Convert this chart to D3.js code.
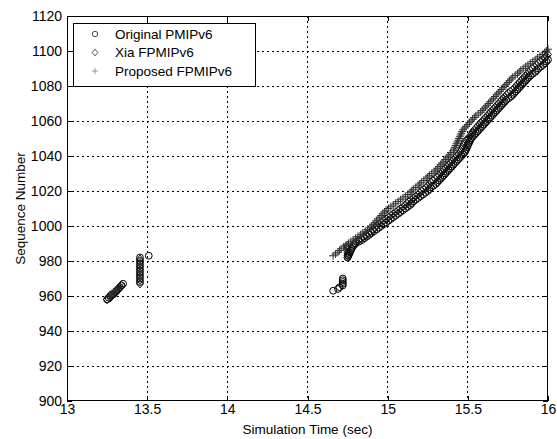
<!DOCTYPE html>
<html><head><meta charset="utf-8">
<script src="https://cdn.jsdelivr.net/npm/d3@7"></script>
<style>body{margin:0;background:#fff}</style>
</head><body>
<svg id="c" width="557" height="439"></svg>
<script>
// ---- data ----
const seriesNames = ["Original PMIPv6", "Xia FPMIPv6", "Proposed FPMIPv6"];
const xTicks = [13, 13.5, 14, 14.5, 15, 15.5, 16];
const yTicks = [900, 920, 940, 960, 980, 1000, 1020, 1040, 1060, 1080, 1100, 1120];

// Original PMIPv6 (circles): [time, seq]
const originalPts = [
 [13.25,958],[13.26,959],[13.27,960],[13.28,961],[13.29,961],[13.30,962],[13.31,963],[13.32,964],[13.33,965],[13.34,966],[13.35,967],
 [13.455,968],[13.455,970],[13.455,972],[13.455,974],[13.455,976],[13.455,978],[13.455,980],[13.455,982],[13.51,983],
 [14.66,963],[14.69,964],[14.70,965],[14.72,966],[14.72,967],[14.72,968],[14.72,969],[14.72,970],
 [14.75,982],[14.755,983],[14.76,984],[14.765,985],[14.77,986],[14.775,987],[14.78,988],[14.79,989],[14.80,990],[14.82,991],
 [14.84,992],[14.855,993],[14.87,994],[14.885,995],[14.90,996],[14.915,997],[14.93,998],[14.945,999],[14.96,1000],[14.975,1001],
 [14.99,1002],[15.005,1003],[15.02,1004],[15.035,1005],[15.05,1006],[15.065,1007],[15.08,1008],[15.095,1009],[15.11,1010],[15.125,1011],
 [15.14,1012],[15.15,1013],[15.16,1014],[15.175,1015],[15.19,1016],[15.205,1017],[15.22,1018],[15.235,1019],[15.25,1020],[15.26,1021],
 [15.27,1022],[15.285,1023],[15.30,1024],[15.31,1025],[15.32,1026],[15.33,1027],[15.34,1028],[15.35,1029],[15.36,1030],[15.37,1031],
 [15.38,1032],[15.39,1033],[15.40,1034],[15.41,1035],[15.42,1036],[15.43,1037],[15.44,1038],[15.45,1039],[15.46,1040],[15.47,1041],
 [15.48,1042],[15.485,1043],[15.49,1044],[15.495,1045],[15.50,1046],[15.505,1047],[15.51,1048],[15.515,1049],[15.52,1050],[15.53,1051],
 [15.54,1052],[15.55,1053],[15.56,1054],[15.57,1055],[15.58,1056],[15.59,1057],[15.60,1058],[15.61,1059],[15.62,1060],[15.63,1061],
 [15.64,1062],[15.65,1063],[15.66,1064],[15.67,1065],[15.68,1066],[15.69,1067],[15.70,1068],[15.71,1069],[15.72,1070],[15.73,1071],
 [15.74,1072],[15.755,1073],[15.77,1074],[15.78,1075],[15.79,1076],[15.80,1077],[15.81,1078],[15.82,1079],[15.83,1080],[15.84,1081],
 [15.85,1082],[15.86,1083],[15.87,1084],[15.88,1085],[15.89,1086],[15.905,1087],[15.92,1088],[15.93,1089],[15.94,1090],[15.955,1091],
 [15.97,1092],[15.98,1093],[15.99,1094],[16.00,1095]
];
// Xia FPMIPv6 (diamonds)
const xiaPts = [
 [13.25,958],[13.27,959],[13.28,960],[13.29,961],[13.30,962],[13.31,963],[13.32,964],[13.33,965],[13.34,966],
 [13.455,967],[13.455,969],[13.455,971],[13.455,973],[13.455,975],[13.455,977],[13.455,979],[13.455,981],
 [14.75,982],[14.75,983],[14.75,984],[14.75,985],[14.75,986],[14.75,987],[14.75,988],[14.75,989],
 [14.79,990],[14.805,991],[14.82,992],[14.835,993],[14.85,994],[14.865,995],[14.88,996],[14.895,997],[14.91,998],[14.92,999],
 [14.93,1000],[14.945,1001],[14.96,1002],[14.975,1003],[14.99,1004],[15.005,1005],[15.02,1006],[15.035,1007],[15.05,1008],[15.065,1009],
 [15.08,1010],[15.095,1011],[15.11,1012],[15.12,1013],[15.13,1014],[15.145,1015],[15.16,1016],[15.175,1017],[15.19,1018],[15.20,1019],
 [15.21,1020],[15.225,1021],[15.24,1022],[15.25,1023],[15.26,1024],[15.27,1025],[15.28,1026],[15.295,1027],[15.31,1028],[15.32,1029],
 [15.33,1030],[15.34,1031],[15.35,1032],[15.36,1033],[15.37,1034],[15.38,1035],[15.39,1036],[15.40,1037],[15.41,1038],[15.42,1039],
 [15.43,1040],[15.44,1041],[15.45,1042],[15.455,1043],[15.46,1044],[15.465,1045],[15.47,1046],[15.475,1047],[15.48,1048],[15.49,1049],
 [15.50,1050],[15.51,1051],[15.52,1052],[15.525,1053],[15.53,1054],[15.54,1055],[15.55,1056],[15.56,1057],[15.57,1058],[15.58,1059],
 [15.59,1060],[15.60,1061],[15.61,1062],[15.62,1063],[15.63,1064],[15.64,1065],[15.65,1066],[15.66,1067],[15.67,1068],[15.68,1069],
 [15.69,1070],[15.70,1071],[15.71,1072],[15.72,1073],[15.73,1074],[15.74,1075],[15.75,1076],[15.765,1077],[15.78,1078],[15.79,1079],
 [15.80,1080],[15.81,1081],[15.82,1082],[15.83,1083],[15.84,1084],[15.85,1085],[15.86,1086],[15.87,1087],[15.88,1088],[15.89,1089],
 [15.90,1090],[15.915,1091],[15.93,1092],[15.94,1093],[15.95,1094],[15.965,1095],[15.98,1096],[15.99,1097],[16.00,1098]
];
// Proposed FPMIPv6 (plus)
const proposedPts = [
 [13.27,960],[13.28,961],[13.29,962],[13.30,963],[13.31,964],
 [13.455,970],[13.455,974],[13.455,978],
 [14.66,983],[14.675,984],[14.69,985],[14.70,986],[14.71,987],[14.725,988],[14.74,989],[14.755,990],[14.77,991],[14.785,992],
 [14.80,993],[14.815,994],[14.83,995],[14.845,996],[14.86,997],[14.875,998],[14.89,999],[14.90,1000],[14.91,1001],[14.92,1002],
 [14.93,1003],[14.94,1004],[14.95,1005],[14.96,1006],[14.97,1007],[14.98,1008],[14.99,1009],[15.005,1010],[15.02,1011],[15.035,1012],
 [15.05,1013],[15.065,1014],[15.08,1015],[15.095,1016],[15.11,1017],[15.125,1018],[15.14,1019],[15.15,1020],[15.16,1021],[15.175,1022],
 [15.19,1023],[15.20,1024],[15.21,1025],[15.225,1026],[15.24,1027],[15.25,1028],[15.26,1029],[15.275,1030],[15.29,1031],[15.30,1032],
 [15.31,1033],[15.32,1034],[15.33,1035],[15.34,1036],[15.35,1037],[15.36,1038],[15.37,1039],[15.38,1040],[15.39,1041],[15.395,1042],
 [15.41,1043],[15.415,1044],[15.42,1045],[15.425,1046],[15.43,1047],[15.435,1048],[15.44,1049],[15.445,1050],[15.45,1051],[15.455,1052],
 [15.46,1053],[15.465,1054],[15.47,1055],[15.48,1056],[15.49,1057],[15.50,1058],[15.51,1059],[15.52,1060],[15.53,1061],[15.54,1062],
 [15.55,1063],[15.565,1064],[15.58,1065],[15.59,1066],[15.60,1067],[15.61,1068],[15.62,1069],[15.63,1070],[15.64,1071],[15.65,1072],
 [15.66,1073],[15.67,1074],[15.68,1075],[15.69,1076],[15.70,1077],[15.71,1078],[15.72,1079],[15.73,1080],[15.74,1081],[15.75,1082],
 [15.76,1083],[15.77,1084],[15.78,1085],[15.795,1086],[15.81,1087],[15.82,1088],[15.83,1089],[15.845,1090],[15.86,1091],[15.875,1092],
 [15.89,1093],[15.905,1094],[15.92,1095],[15.935,1096],[15.95,1097],[15.965,1098],[15.98,1099],[15.99,1100],[16.00,1101]
];

// ---- layout ----
const svg = d3.select("#c");
const L = 67, R = 548, T = 16, B = 401;
const x = d3.scaleLinear().domain([13, 16]).range([L, R]);
const y = d3.scaleLinear().domain([900, 1120]).range([B, T]);
const font = "'Liberation Sans', Arial, Helvetica, sans-serif";
const fs = "13.5px";

svg.append("rect").attr("x", L).attr("y", T).attr("width", R - L).attr("height", B - T).attr("fill", "#fff");

// grid
const g = svg.append("g");
g.selectAll(".gx").data(xTicks.slice(1, -1)).enter().append("line")
  .attr("x1", d => x(d)).attr("x2", d => x(d)).attr("y1", T).attr("y2", B)
  .attr("stroke", "#000").attr("stroke-width", 1).attr("stroke-dasharray", "2,3").attr("shape-rendering", "crispEdges");
g.selectAll(".gy").data(yTicks.slice(1, -1)).enter().append("line")
  .attr("y1", d => y(d)).attr("y2", d => y(d)).attr("x1", L).attr("x2", R)
  .attr("stroke", "#000").attr("stroke-width", 1).attr("stroke-dasharray", "2,3").attr("shape-rendering", "crispEdges");

// axes
const ax = d3.axisBottom(x).tickValues(xTicks).tickSize(-5).tickPadding(3).tickFormat(d3.format("~g"));
const ay = d3.axisLeft(y).tickValues(yTicks).tickSize(-5).tickPadding(5).tickFormat(d3.format("d"));
const gx = svg.append("g").attr("transform", `translate(0,${B})`).call(ax);
const gy = svg.append("g").attr("transform", `translate(${L},0)`).call(ay);
const gxt = svg.append("g").attr("transform", `translate(0,${T})`).call(d3.axisTop(x).tickValues(xTicks).tickSize(-5).tickFormat(""));
const gyr = svg.append("g").attr("transform", `translate(${R},0)`).call(d3.axisRight(y).tickValues(yTicks).tickSize(-5).tickFormat(""));
[gx, gy, gxt, gyr].forEach(a => {
  a.select(".domain").remove();
  a.selectAll("line").attr("stroke", "#000").attr("shape-rendering", "crispEdges");
  a.selectAll("text").attr("fill", "#000").style("font-family", font).style("font-size", "14px");
});
svg.append("rect").attr("x", L + 0.5).attr("y", T + 0.5).attr("width", R - L - 1).attr("height", B - T - 1)
  .attr("fill", "none").attr("stroke", "#000").attr("stroke-width", 1);

// markers
const sym = {
  circle: (s, d) => s.append("circle").attr("cx", x(d[0])).attr("cy", y(d[1])).attr("r", 3.4),
  diamond: (s, d) => s.append("path").attr("d", `M${x(d[0])},${y(d[1]) - 4.2}l3.5,4.2l-3.5,4.2l-3.5,-4.2z`),
  plus: (s, d) => s.append("path").attr("d", `M${x(d[0]) - 4},${y(d[1])}h8M${x(d[0])},${y(d[1]) - 4}v8`)
};
function drawSeries(pts, kind, color) {
  const gs = svg.append("g").attr("fill", "none").attr("stroke", color).attr("stroke-width", 1);
  pts.forEach(d => sym[kind](gs, d));
}
drawSeries(originalPts, "circle", "#000");
drawSeries(xiaPts, "diamond", "#111");
drawSeries(proposedPts, "plus", "#333");

// legend
const lg = svg.append("g");
lg.append("rect").attr("x", 73.5).attr("y", 23.5).attr("width", 182).attr("height", 63)
  .attr("fill", "#fff").attr("stroke", "#000");
const kinds = ["circle", "diamond", "plus"];
const colors = ["#000", "#111", "#777"];
seriesNames.forEach((n, i) => {
  const cy = 34 + i * 18.5;
  const gm = lg.append("g").attr("fill", "none").attr("stroke", colors[i]).attr("stroke-width", 0.9)
    .attr("transform", `translate(${95},${cy}) scale(0.8) translate(${-95},${-cy})`);
  sym[kinds[i]](gm, [x.invert(95), y.invert(cy)]);
  lg.append("text").attr("x", 115).attr("y", cy).attr("dy", "0.36em").text(n)
    .style("font-family", font).style("font-size", fs).attr("fill", "#000");
});

// axis titles
svg.append("text").attr("x", (L + R) / 2).attr("y", 434).attr("text-anchor", "middle")
  .style("font-family", font).style("font-size", fs).text("Simulation Time (sec)");
svg.append("text").attr("transform", `translate(25,${(T + B) / 2}) rotate(-90)`).attr("text-anchor", "middle")
  .style("font-family", font).style("font-size", fs).text("Sequence Number");
</script>
</body></html>
